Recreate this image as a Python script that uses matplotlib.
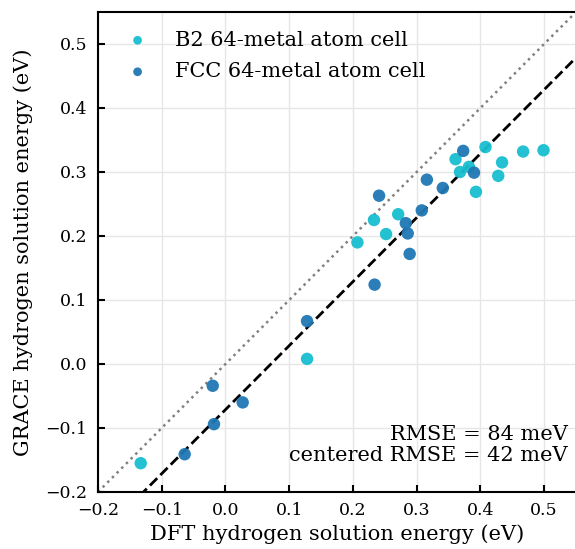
import numpy as np
import matplotlib
matplotlib.use('Agg')
import matplotlib.pyplot as plt

# DFT vs GRACE hydrogen solution energies (eV)
b2_dft = [-0.133, 0.128, 0.207, 0.233, 0.252, 0.271, 0.361, 0.368, 0.382, 0.393,
          0.408, 0.428, 0.434, 0.467, 0.499]
b2_grace = [-0.155, 0.008, 0.190, 0.225, 0.203, 0.234, 0.320, 0.300, 0.308, 0.269,
            0.339, 0.294, 0.315, 0.332, 0.334]

fcc_dft = [-0.064, -0.020, -0.018, 0.027, 0.128, 0.234, 0.241, 0.283, 0.286, 0.289,
           0.308, 0.316, 0.341, 0.373, 0.390]
fcc_grace = [-0.141, -0.034, -0.094, -0.060, 0.067, 0.124, 0.263, 0.220, 0.204, 0.172,
             0.240, 0.288, 0.275, 0.333, 0.299]

rmse_mev = 84
crmse_mev = 42

plt.rcParams['font.family'] = 'DejaVu Serif'

fig = plt.figure(figsize=(5.75, 5.49), dpi=100)
ax = fig.add_axes([98 / 575, 57 / 549, 478 / 575, 480 / 549])

lims = [-0.2, 0.55]
ax.plot(lims, lims, ':', color='gray', lw=1.8, zorder=1)

# offset line: y = x + mean bias
all_x = np.array(b2_dft + fcc_dft)
all_y = np.array(b2_grace + fcc_grace)
bias = np.mean(all_y - all_x)
ax.plot(lims, np.array(lims) + bias, '--', color='black', lw=2, zorder=1)

ax.scatter(b2_dft, b2_grace, s=80, color='tab:cyan', edgecolors='none',
           alpha=0.95, label='B2 64-metal atom cell', zorder=3)
ax.scatter(fcc_dft, fcc_grace, s=80, color='tab:blue', edgecolors='none',
           alpha=0.95, label='FCC 64-metal atom cell', zorder=3)

ax.set_xlim(lims)
ax.set_ylim(lims)
ax.set_xticks(np.arange(-0.2, 0.51, 0.1))
ax.set_yticks(np.arange(-0.2, 0.51, 0.1))
ax.grid(color='#e6e6e6', lw=1)
ax.set_axisbelow(True)

ax.tick_params(direction='in', length=5, width=1.5, labelsize=12.5)
ax.tick_params(axis='x', pad=7)
ax.tick_params(axis='y', pad=7.5)
for s in ax.spines.values():
    s.set_linewidth(1.5)
ax.spines['right'].set_visible(False)

ax.set_xlabel('DFT hydrogen solution energy (eV)', fontsize=15, labelpad=4)
ax.set_ylabel('GRACE hydrogen solution energy (eV)', fontsize=15, labelpad=9)

ax.legend(loc='upper left', frameon=False, fontsize=15, markerscale=0.7,
          handletextpad=0.8, borderaxespad=0.5, labelspacing=0.6)

ax.text(0.983, 0.056, f'RMSE = {rmse_mev} meV\ncentered RMSE = {crmse_mev} meV',
        transform=ax.transAxes, ha='right', va='bottom', fontsize=15,
        linespacing=1.15)

fig.savefig('out.png', dpi=100)
